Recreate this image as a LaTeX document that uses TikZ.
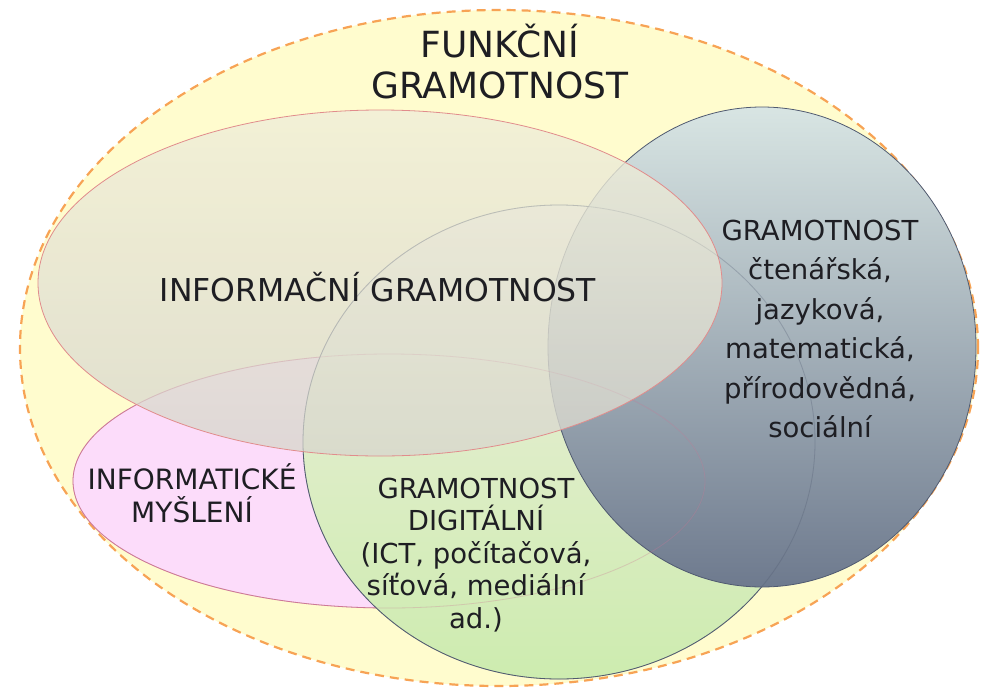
\documentclass[tikz,border=0pt]{standalone}
\usepackage{fontspec}
\setmainfont{DejaVu Sans}
\definecolor{outerfill}{RGB}{255,252,206}
\definecolor{outerline}{RGB}{247,163,85}
\definecolor{pinkfill}{RGB}{252,220,250}
\definecolor{pinkline}{RGB}{205,120,150}
\definecolor{greentop}{RGB}{240,238,225}
\definecolor{greenbot}{RGB}{205,236,175}
\definecolor{bluetop}{RGB}{216,229,227}
\definecolor{bluebot}{RGB}{110,122,142}
\definecolor{slateline}{RGB}{80,90,112}
\definecolor{infotop}{RGB}{240,238,216}
\definecolor{infobot}{RGB}{216,215,206}
\definecolor{infoline}{RGB}{225,140,140}
\definecolor{txt}{RGB}{30,30,35}
\tikzset{
  area/.style={line width=0.8pt},
  seethrough/.style={line width=0.8pt, draw opacity=0.2},
  lbl/.style={align=center, text=txt, inner sep=0pt},
}
\begin{document}
\begin{tikzpicture}[x=1pt,y=-1pt]
    \useasboundingbox (0,0) rectangle (981,688);
    \draw [fill=outerfill, draw=outerline, line width=2.2pt, dash pattern=on 9pt off 6pt] (499,348) ellipse [x radius=479pt, y radius=338pt];
    \draw [fill=pinkfill, draw=pinkline, area] (389,481) ellipse [x radius=316pt, y radius=127pt];
    \draw [top color=greentop, bottom color=greenbot, draw=slateline, area] (559,442) ellipse [x radius=256pt, y radius=237pt];
    \draw [top color=bluetop, bottom color=bluebot, draw=slateline, area] (762,347) ellipse [x radius=214pt, y radius=240pt];
    \draw [draw=slateline, seethrough] (559,442) ellipse [x radius=256pt, y radius=237pt];
    \draw [draw=pinkline, seethrough] (389,481) ellipse [x radius=316pt, y radius=127pt];
    \draw [top color=infotop, bottom color=infobot, fill opacity=0.8, draw=infoline, area] (380,283) ellipse [x radius=342pt, y radius=173pt];
    \draw [draw=slateline, draw opacity=0.12, area] (559,442) ellipse [x radius=256pt, y radius=237pt];
    \draw [draw=pinkline, draw opacity=0.12, area] (389,481) ellipse [x radius=316pt, y radius=127pt];
    \node [lbl, font=\fontsize{36}{41}\selectfont] (title) at (500,62) {FUNKČNÍ\\GRAMOTNOST};
    \node [lbl, font=\fontsize{31.5}{37}\selectfont] (info) at (378,287) {INFORMAČNÍ GRAMOTNOST};
    \node [lbl, font=\fontsize{27.5}{39.5}\selectfont] (lit) at (820,329) {GRAMOTNOST\\čtenářská,\\jazyková,\\matematická,\\přírodovědná,\\sociální};
    \node [lbl, font=\fontsize{28}{33}\selectfont] (think) at (192,493) {INFORMATICKÉ\\MYŠLENÍ};
    \node [lbl, font=\fontsize{27.5}{32.5}\selectfont] (digital) at (476,555) {GRAMOTNOST\\DIGITÁLNÍ\\(ICT, počítačová,\\síťová, mediální\\ad.)};
\end{tikzpicture}
\end{document}
